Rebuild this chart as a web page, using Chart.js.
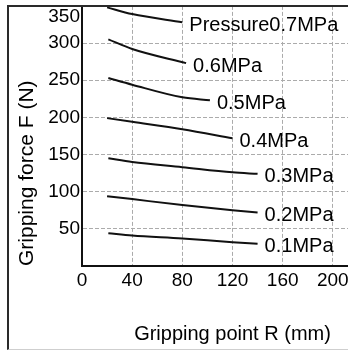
<!DOCTYPE html>
<html>
<head>
<meta charset="utf-8">
<script src="https://cdn.jsdelivr.net/npm/chart.js@4/dist/chart.umd.min.js"></script>
<style>
  html, body { margin: 0; padding: 0; background: #fff; overflow: hidden; }
  #wrap { position: relative; width: 348px; height: 352px; overflow: hidden; }
  #plot { position: absolute; left: 0; top: -17px; }
  #frame {
    position: absolute; left: 7px; top: 5px; width: 400px; height: 342px;
    border-left: 2px solid #2a2a2a; border-top: 2px solid #2a2a2a;
    border-bottom: 1px solid #cfcfcf; pointer-events: none;
  }
</style>
</head>
<body>
<div id="wrap">
  <canvas id="plot" width="423" height="368"></canvas>
  <div id="frame"></div>
</div>
<script>
// Gripping force F (N) against gripping point R (mm), one curve per supply pressure
const pressureLabels = ['Pressure0.7MPa', '0.6MPa', '0.5MPa', '0.4MPa', '0.3MPa', '0.2MPa', '0.1MPa'];

const r07 = [20, 40, 80];
const f07 = [348, 339, 328];
const r06 = [21, 40, 83];
const f06 = [305, 292, 273];
const r05 = [21, 40, 80, 102];
const f05 = [253, 244, 227, 223];
const r04 = [20, 40, 80, 120];
const f04 = [199, 194, 184, 172];
const r03 = [21, 40, 80, 120, 140];
const f03 = [145, 140, 133, 126, 124];
const r02 = [20, 40, 80, 120, 140];
const f02 = [94, 90, 82, 75, 72];
const r01 = [21, 40, 80, 120, 140];
const f01 = [44, 41, 37, 32, 30];

const seriesR = [r07, r06, r05, r04, r03, r02, r01];
const seriesF = [f07, f06, f05, f04, f03, f02, f01];

const xTicks = [0, 40, 80, 120, 160, 200, 240];
const yTicks = [50, 100, 150, 200, 250, 300, 350];

const FONT = "'Liberation Sans', Arial, sans-serif";
const INK = '#111111';
const TEXT = '#000000';
const GRID = '#ababab';

const datasets = seriesR.map((rs, i) => ({
  label: pressureLabels[i],
  data: rs.map((r, j) => ({ x: r, y: seriesF[i][j] })),
  borderColor: INK,
  borderWidth: 2,
  pointRadius: 0,
  cubicInterpolationMode: 'monotone',
  fill: false
}));

// Writes each pressure name just past the end of its curve
const endLabels = {
  id: 'endLabels',
  afterDatasetsDraw(chart) {
    const ctx = chart.ctx;
    ctx.save();
    ctx.font = '20px ' + FONT;
    ctx.fillStyle = TEXT;
    ctx.textAlign = 'left';
    ctx.textBaseline = 'middle';
    chart.data.datasets.forEach((ds, i) => {
      const pts = chart.getDatasetMeta(i).data;
      const last = pts[pts.length - 1];
      ctx.fillText(ds.label, last.x + 7, last.y + 3);
    });
    ctx.restore();
  }
};

new Chart(document.getElementById('plot'), {
  type: 'line',
  data: { datasets },
  plugins: [endLabels],
  options: {
    responsive: false,
    animation: false,
    devicePixelRatio: 1,
    layout: { padding: { left: 0, right: 40, top: 0, bottom: 0 } },
    plugins: { legend: { display: false }, tooltip: { enabled: false } },
    scales: {
      x: {
        type: 'linear',
        min: 0,
        max: 240,
        afterBuildTicks: (scale) => { scale.ticks = xTicks.map(v => ({ value: v })); },
        afterFit: (scale) => { scale.height = 85; },
        grid: { color: GRID, lineWidth: 1, drawTicks: false },
        border: { display: true, color: INK, width: 2, dash: [4, 2] },
        ticks: { color: TEXT, font: { family: FONT, size: 19 }, padding: 3.2, maxRotation: 0, autoSkip: false },
        title: {
          display: true,
          text: 'Gripping point R (mm)',
          color: TEXT,
          font: { family: FONT, size: 20 },
          padding: { top: 0, bottom: 4.3 }
        }
      },
      y: {
        type: 'linear',
        min: 0,
        max: 350,
        afterBuildTicks: (scale) => { scale.ticks = [0].concat(yTicks).map(v => ({ value: v })); },
        afterFit: (scale) => { scale.width = 82; },
        grid: { color: GRID, lineWidth: 1, drawTicks: false },
        border: { display: true, color: INK, width: 2, dash: [4, 2] },
        ticks: {
          color: TEXT,
          font: { family: FONT, size: 19, lineHeight: 1.1 },
          padding: 2,
          autoSkip: false,
          callback: (v) => v === 0 ? '' : (v === 350 ? ['', String(v)] : String(v))
        },
        title: {
          display: true,
          text: 'Gripping force F (N)',
          align: 'start',
          color: TEXT,
          font: { family: FONT, size: 21 },
          padding: { top: 15, bottom: 0 }
        }
      }
    }
  }
});
</script>
</body>
</html>
